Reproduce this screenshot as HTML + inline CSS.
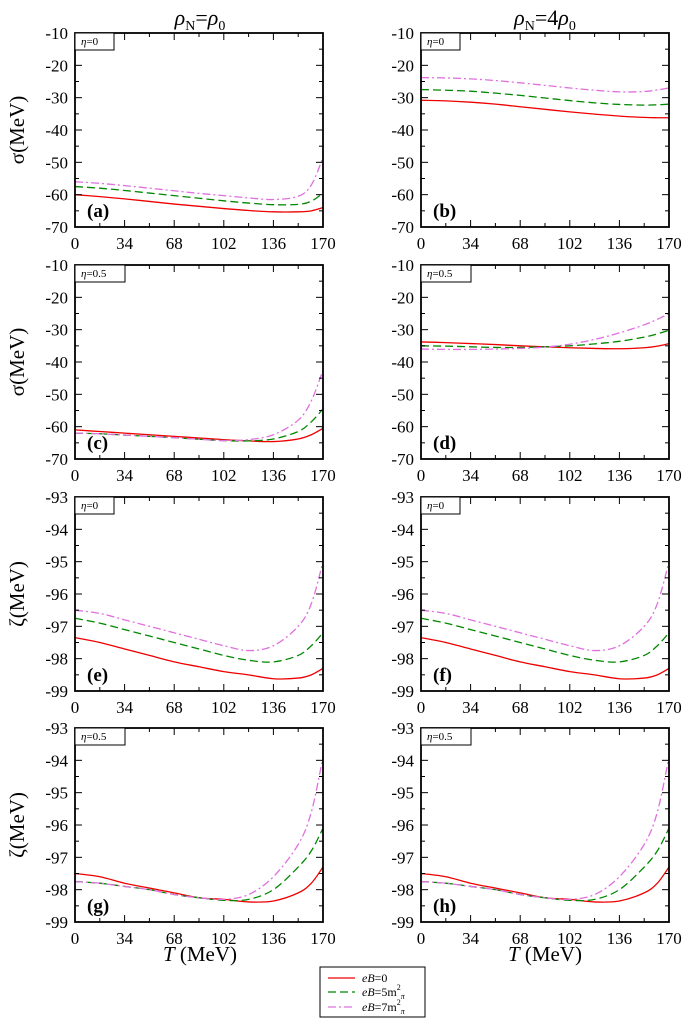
<!DOCTYPE html>
<html><head><meta charset="utf-8">
<style>
body{margin:0;background:#fff;}
svg, svg text{font-family:"Liberation Serif","DejaVu Serif",serif;}
</style></head>
<body>
<svg id="chart" width="685" height="1019" viewBox="0 0 685 1019" xmlns="http://www.w3.org/2000/svg" font-family="Liberation Serif, serif">
<text x="200" y="25" text-anchor="middle" font-size="22"><tspan font-style="italic">ρ</tspan><tspan font-size="14" dy="5">N</tspan><tspan dy="-5">=</tspan><tspan font-style="italic">ρ</tspan><tspan font-size="14" dy="5">0</tspan></text>
<text x="545" y="25" text-anchor="middle" font-size="22"><tspan font-style="italic">ρ</tspan><tspan font-size="14" dy="5">N</tspan><tspan dy="-5">=4</tspan><tspan font-style="italic">ρ</tspan><tspan font-size="14" dy="5">0</tspan></text>
<text x="200" y="961" text-anchor="middle" font-size="21"><tspan font-style="italic">T</tspan> (MeV)</text>
<text x="545" y="961" text-anchor="middle" font-size="21"><tspan font-style="italic">T</tspan> (MeV)</text>
<g>
<rect x="320" y="967" width="105" height="50" fill="#fff" stroke="#000" stroke-width="1"/>
<line x1="328" y1="978" x2="355" y2="978" stroke="#e00" stroke-width="1.3"/>
<text x="362" y="982" font-size="12"><tspan font-style="italic">eB</tspan>=0</text>
<line x1="328" y1="992" x2="355" y2="992" stroke="#080" stroke-width="1.3" stroke-dasharray="8,4"/>
<text x="362" y="996" font-size="12"><tspan font-style="italic">eB</tspan>=5m<tspan font-size="8" dy="-6">2</tspan><tspan font-size="8" dy="9" font-style="italic">π</tspan></text>
<line x1="328" y1="1007" x2="355" y2="1007" stroke="#e070e0" stroke-width="1.3" stroke-dasharray="8,3,2,3"/>
<text x="362" y="1011" font-size="12"><tspan font-style="italic">eB</tspan>=7m<tspan font-size="8" dy="-6">2</tspan><tspan font-size="8" dy="9" font-style="italic">π</tspan></text>
</g>
</svg>
<script>
const temps=[0,17,34,51,68,85,102,119,136,153,162,170];
const xTicks=[0,34,68,102,136,170];
const sigmaTicks=[-10,-20,-30,-40,-50,-60,-70];
const zetaTicks=[-93,-94,-95,-96,-97,-98,-99];
const aB0=[-60,-60.6,-61.3,-62.1,-62.9,-63.6,-64.3,-64.9,-65.3,-65.3,-65,-64];
const aB5=[-57.5,-58,-58.7,-59.5,-60.3,-61.1,-61.9,-62.6,-63.1,-63,-62,-59.5];
const aB7=[-56,-56.5,-57.2,-58,-58.8,-59.6,-60.3,-61,-61.5,-60.5,-57,-48.5];
const bB0=[-30.8,-31,-31.4,-32,-32.8,-33.6,-34.4,-35.1,-35.7,-36.1,-36.2,-36.2];
const bB5=[-27.5,-27.7,-28,-28.6,-29.3,-30.1,-30.9,-31.6,-32.1,-32.3,-32.2,-32];
const bB7=[-23.8,-23.9,-24.2,-24.7,-25.4,-26.2,-27,-27.7,-28.2,-28.1,-27.6,-27];
const cB0=[-61,-61.5,-62,-62.5,-63,-63.5,-64,-64.4,-64.6,-63.8,-62.5,-60.5];
const cB5=[-62,-62.2,-62.6,-63,-63.4,-63.9,-64.3,-64.4,-63.8,-61.5,-58.5,-54.5];
const cB7=[-62,-62.2,-62.6,-63,-63.4,-63.9,-64.3,-64,-62.5,-58,-52,-42.5];
const dB0=[-33.8,-34,-34.3,-34.6,-35,-35.3,-35.6,-35.8,-35.9,-35.6,-35.1,-34.3];
const dB5=[-35,-35.1,-35.3,-35.5,-35.5,-35.3,-35,-34.4,-33.6,-32.3,-31.3,-30.2];
const dB7=[-36,-36.1,-36.1,-36,-35.8,-35.4,-34.5,-33,-31,-28.5,-26.8,-25];
const eB0=[-97.35,-97.5,-97.7,-97.9,-98.1,-98.25,-98.4,-98.5,-98.62,-98.6,-98.5,-98.3];
const eB5=[-96.75,-96.9,-97.1,-97.3,-97.5,-97.7,-97.9,-98.05,-98.1,-97.9,-97.6,-97.2];
const eB7=[-96.5,-96.6,-96.8,-97,-97.2,-97.4,-97.6,-97.75,-97.6,-97,-96.3,-95];
const fB0=[-97.35,-97.5,-97.7,-97.9,-98.1,-98.25,-98.4,-98.5,-98.62,-98.6,-98.5,-98.3];
const fB5=[-96.75,-96.9,-97.1,-97.3,-97.5,-97.7,-97.9,-98.05,-98.1,-97.9,-97.6,-97.2];
const fB7=[-96.5,-96.6,-96.8,-97,-97.2,-97.4,-97.6,-97.75,-97.6,-97,-96.3,-95];
const gB0=[-97.5,-97.6,-97.8,-97.95,-98.1,-98.25,-98.3,-98.38,-98.35,-98.1,-97.8,-97.3];
const gB5=[-97.75,-97.8,-97.9,-98,-98.15,-98.25,-98.33,-98.3,-98,-97.3,-96.8,-96.1];
const gB7=[-97.75,-97.8,-97.9,-98,-98.15,-98.25,-98.3,-98.15,-97.6,-96.6,-95.6,-93.9];
const hB0=[-97.5,-97.6,-97.8,-97.95,-98.1,-98.25,-98.3,-98.38,-98.35,-98.1,-97.8,-97.3];
const hB5=[-97.75,-97.8,-97.9,-98,-98.15,-98.25,-98.33,-98.3,-98,-97.3,-96.8,-96.1];
const hB7=[-97.75,-97.8,-97.9,-98,-98.15,-98.25,-98.3,-98.15,-97.6,-96.6,-95.6,-93.9];

const NS='http://www.w3.org/2000/svg';
const svg=document.getElementById('chart');
function mk(tag,attrs,parent){const e=document.createElementNS(NS,tag);for(const k in attrs)e.setAttribute(k,attrs[k]);(parent||svg).appendChild(e);return e;}

const panels=[
 {id:'a',col:0,row:0,type:'s',eta:'0',s:[aB0,aB5,aB7]},
 {id:'b',col:1,row:0,type:'s',eta:'0',s:[bB0,bB5,bB7]},
 {id:'c',col:0,row:1,type:'s',eta:'0.5',s:[cB0,cB5,cB7]},
 {id:'d',col:1,row:1,type:'s',eta:'0.5',s:[dB0,dB5,dB7]},
 {id:'e',col:0,row:2,type:'z',eta:'0',s:[eB0,eB5,eB7]},
 {id:'f',col:1,row:2,type:'z',eta:'0',s:[fB0,fB5,fB7]},
 {id:'g',col:0,row:3,type:'z',eta:'0.5',s:[gB0,gB5,gB7]},
 {id:'h',col:1,row:3,type:'z',eta:'0.5',s:[hB0,hB5,hB7]}
];
const rowTops=[33,265,497,728];
const colors=['#e00','#080','#e070e0'];
const dashes=['none','8,4','8,3,2,3'];
const names=['eb0','eb5','eb7'];
const W=248,H=194;
const FF='Liberation Serif, serif';
panels.forEach(p=>{
 const x0=p.col?421:75, y0=rowTops[p.row];
 const yt=p.type==='s'?sigmaTicks:zetaTicks;
 const ymax=yt[0],ymin=yt[yt.length-1];
 const X=v=>x0+v/170*W;
 const Y=v=>y0+(ymax-v)/(ymax-ymin)*H;
 const g=mk('g',{});
 
 
 const cp=mk('clipPath',{id:'cl'+p.id},g);
 mk('rect',{x:x0,y:y0,width:W,height:H},cp);
 p.s.forEach((arr,i)=>{
  const pts=temps.map((t,k)=>[X(t),Y(arr[k])]);
  let d='M'+pts[0][0].toFixed(2)+','+pts[0][1].toFixed(2);
  for(let k=0;k<pts.length-1;k++){
   const p0=pts[Math.max(0,k-1)],p1=pts[k],p2=pts[k+1],p3=pts[Math.min(pts.length-1,k+2)];
   const c1=[p1[0]+(p2[0]-p0[0])/6,p1[1]+(p2[1]-p0[1])/6];
   const c2=[p2[0]-(p3[0]-p1[0])/6,p2[1]-(p3[1]-p1[1])/6];
   d+=' C'+c1.join(',')+' '+c2.join(',')+' '+p2.join(',');
  }
  const path=mk('path',{d:d,fill:'none',stroke:colors[i],'stroke-width':1.3,'stroke-dasharray':dashes[i],'clip-path':'url(#cl'+p.id+')'},g);
  
  
 });
 xTicks.forEach((t,k)=>{
  const x=X(t);
  mk('line',{x1:x,y1:y0+H,x2:x,y2:y0+H-7,stroke:'#000','stroke-width':1},g);
  mk('line',{x1:x,y1:y0,x2:x,y2:y0+7,stroke:'#000','stroke-width':1},g);
  if(k<xTicks.length-1){const xm=X(t+17);
   mk('line',{x1:xm,y1:y0+H,x2:xm,y2:y0+H-4,stroke:'#000','stroke-width':1},g);
   mk('line',{x1:xm,y1:y0,x2:xm,y2:y0+4,stroke:'#000','stroke-width':1},g);}
  const tl=mk('text',{x:x,y:y0+H+22,'text-anchor':'middle','font-size':17,'font-family':FF},g);
  tl.textContent=t;
  
  
 });
 const half=(ymax-ymin)/12;
 yt.forEach((v,k)=>{
  const y=Y(v);
  mk('line',{x1:x0,y1:y,x2:x0+7,y2:y,stroke:'#000','stroke-width':1},g);
  mk('line',{x1:x0+W,y1:y,x2:x0+W-7,y2:y,stroke:'#000','stroke-width':1},g);
  if(k<yt.length-1){const ym=Y(v-half);
   mk('line',{x1:x0,y1:ym,x2:x0+4,y2:ym,stroke:'#000','stroke-width':1},g);
   mk('line',{x1:x0+W,y1:ym,x2:x0+W-4,y2:ym,stroke:'#000','stroke-width':1},g);}
  const tl=mk('text',{x:x0-7,y:y+6,'text-anchor':'end','font-size':17,'font-family':FF},g);
  tl.textContent=v;
  
  
 });
 mk('rect',{x:x0,y:y0,width:W,height:H,fill:'none',stroke:'#000','stroke-width':1.8},g);
 mk('rect',{x:x0,y:y0,width:p.eta==='0'?39:50,height:17,fill:'#fff',stroke:'#000','stroke-width':1},g);
 const et=mk('text',{x:x0+6,y:y0+12,'font-size':11,'font-family':FF},g);
 et.innerHTML='<tspan font-style="italic">η</tspan>='+p.eta;
 
 
 const pl=mk('text',{x:x0+12,y:y0+H-10,'font-size':19,'font-weight':'bold','font-family':FF},g);
 pl.textContent='('+p.id+')';
 
 
 if(p.col===0){
  const yl=mk('text',{x:0,y:0,'font-size':21,'text-anchor':'middle','font-family':FF,transform:'translate(24,'+(y0+H/2)+') rotate(-90)'},g);
  yl.textContent=p.type==='s'?'σ(MeV)':'ζ(MeV)';
  
  
 }
});
</script>
</body></html>
